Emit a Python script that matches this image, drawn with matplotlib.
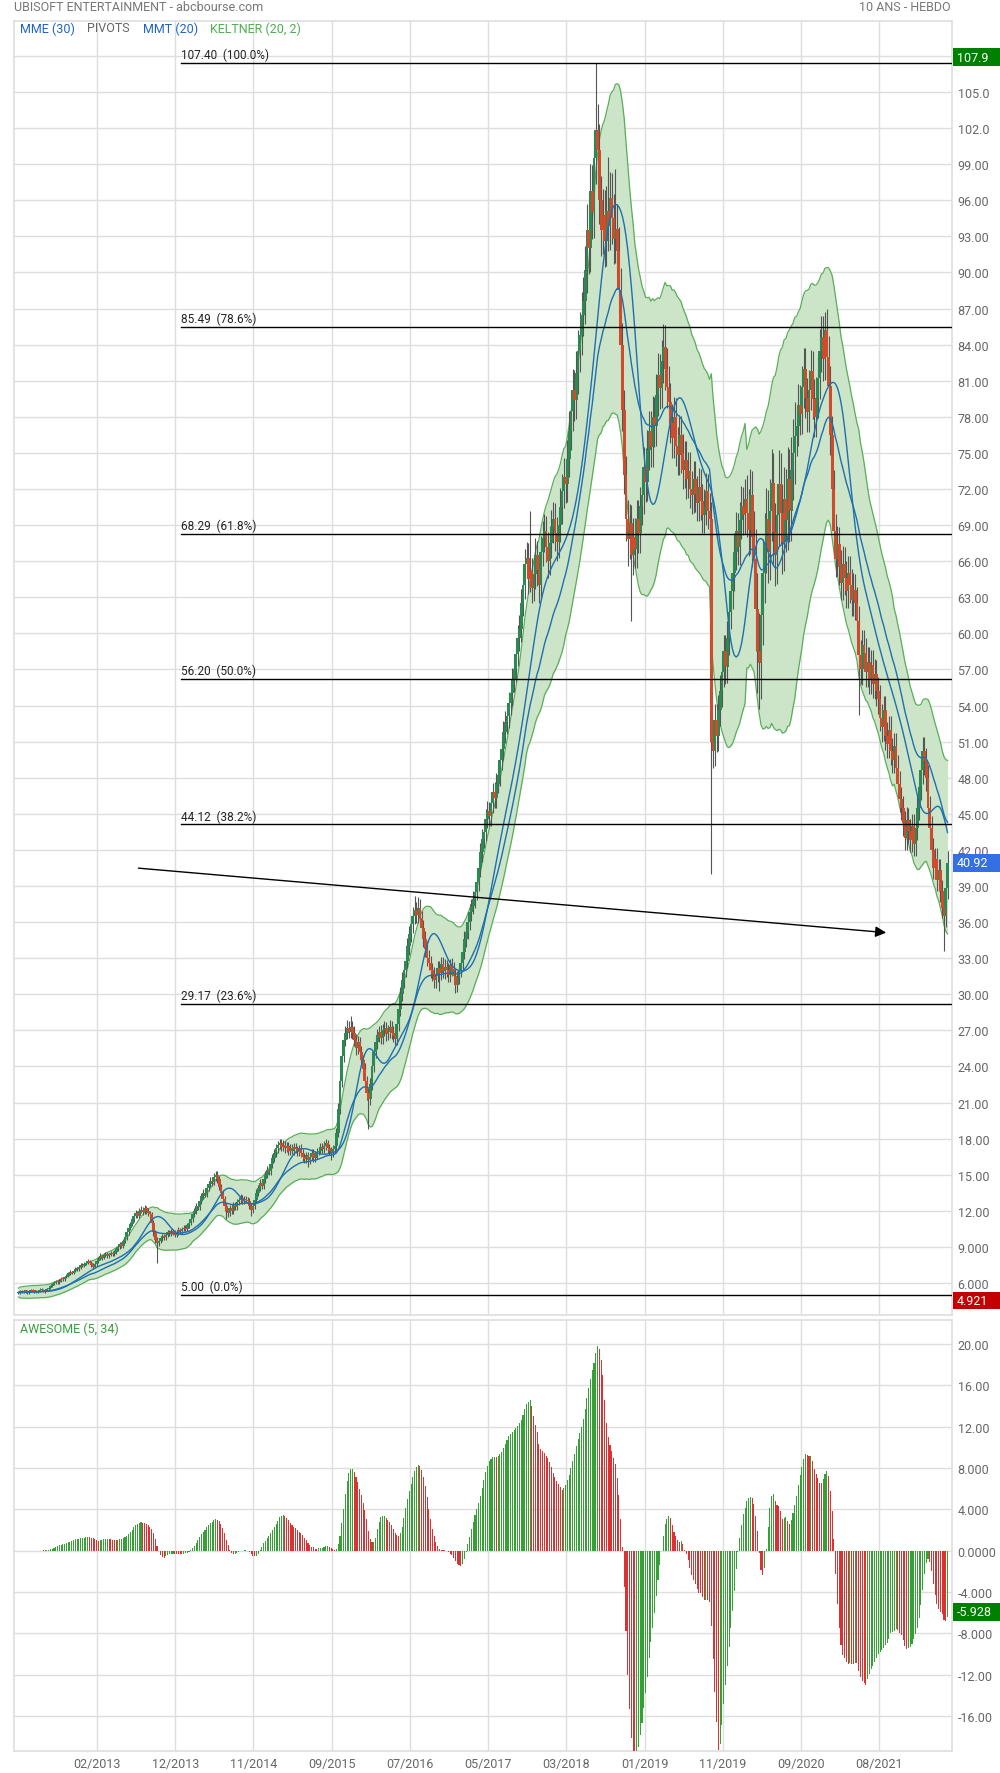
import numpy as np
import pandas as pd
import matplotlib
matplotlib.use("Agg")
import matplotlib.pyplot as plt
from matplotlib.patches import Rectangle
from matplotlib.transforms import blended_transform_factory

plt.rcParams["font.family"] = ["Roboto", "DejaVu Sans"]

# Weekly closes, one line per stretch of the chart (mar 2012 -> may 2022)
closes = [
    5.20, 5.30, 5.25, 5.35, 5.30, 5.20, 5.30, 5.40, 5.35, 5.30, 5.25, 5.35, 5.45, 5.40, 5.30, 5.40, 5.50, 5.60,
    5.75, 5.90, 6.00, 6.10, 6.05, 6.20, 6.35, 6.30, 6.50,
    6.60, 6.80, 6.90, 6.85, 7.00, 7.20, 7.15, 7.30, 7.50, 7.45, 7.60, 7.70, 7.80, 7.70,
    7.50, 7.35, 7.55,
    7.80, 8.00, 8.20, 8.10, 8.30, 8.40, 8.25, 8.35, 8.50, 8.40,
    8.60, 8.80, 9.00, 9.20, 9.10, 9.50, 9.80, 10.2, 10.6, 10.9, 11.3, 11.6,
    11.8, 11.6, 12.0, 12.1, 11.9, 12.2, 12.0, 11.8, 11.7,
    11.0, 10.2, 9.60, 9.30, 9.50,
    9.70, 9.90, 9.80, 10.0, 10.2, 10.1, 10.3, 10.2, 10.0, 10.2, 10.4, 10.3, 10.5, 10.6, 10.5, 10.8, 11.0,
    11.3, 11.7, 12.0, 12.4, 12.3, 12.8, 13.2, 13.5, 13.4, 13.9, 14.2, 14.5, 14.4, 14.8, 15.0,
    14.6, 14.0, 13.5, 13.0, 12.4, 12.0, 11.8, 12.2, 12.0, 12.5, 12.3,
    12.7, 12.9, 13.1, 12.8, 13.0, 12.9, 12.8,
    12.4, 12.1, 12.4,
    12.9, 13.5, 13.9, 14.3, 14.1, 14.6, 15.0, 15.4, 15.3, 15.9, 16.4, 16.8, 17.2, 17.5, 17.6,
    17.3, 17.5, 17.2, 17.4, 17.0,
    17.2, 17.0, 17.3, 17.1, 16.9, 17.2, 16.8, 16.5,
    16.3, 16.6, 16.2, 16.5, 16.8, 16.4, 16.6, 16.9, 17.0,
    17.3, 17.1, 17.4, 17.6, 17.2, 17.0, 16.8, 17.1, 17.4,
    18.5, 20.5, 22.8, 24.9, 26.2, 26.8, 27.2, 26.9,
    27.3, 26.8, 26.2, 25.5, 26.0, 25.2, 24.5, 23.8, 22.8,
    21.8, 21.3, 22.5, 24.0, 25.2,
    26.0, 26.6, 26.9, 26.4, 27.0, 27.2, 26.7, 26.9, 27.3, 26.8, 26.5, 26.3,
    27.5, 28.8, 30.0, 31.2, 32.0, 32.8, 34.0, 35.0, 35.8, 36.5, 37.0,
    36.6, 37.2, 36.3, 35.5, 34.6, 33.8, 33.0, 32.6, 32.0, 31.7, 31.2,
    31.6, 32.2, 31.8, 32.5, 31.9, 32.3, 32.0, 31.6, 32.4, 32.1, 31.5, 30.8, 31.4, 32.0, 32.6,
    33.5, 34.6, 35.2, 36.0, 36.8, 37.3, 37.9, 38.5, 39.3,
    40.5, 41.8, 42.9, 43.5, 44.6, 45.2, 44.8,
    45.9, 46.8, 46.3, 47.5, 48.2,
    49.5, 50.4, 51.8, 52.6, 53.1, 54.2, 55.0, 56.1, 57.0, 58.3, 59.6, 60.4,
    62.5, 64.0, 65.8, 66.3,
    64.5, 65.2, 63.8, 64.9, 66.5, 65.3, 64.0, 66.8, 67.9, 68.5, 67.2, 66.0, 67.5, 68.8,
    69.5, 68.3, 67.6, 69.0, 70.5, 71.8, 73.0, 72.4, 74.5, 76.8,
    78.5, 80.2, 79.4, 81.6, 83.5, 84.8, 86.5, 87.6,
    90.2, 93.5, 92.0, 96.8, 95.0, 99.5, 101.8, 100.2,
    96.0, 93.5, 94.8, 92.6, 95.1, 93.9, 96.2, 94.5, 92.8, 93.6, 91.8,
    88.5, 84.0, 78.6, 73.2, 69.5, 67.8,
    69.2, 66.5, 68.0, 67.0, 69.5, 68.3, 70.6,
    71.5, 73.8, 72.6, 75.2, 76.8, 75.5, 78.0, 77.2, 79.8, 81.5, 80.4, 82.6, 83.8, 82.0, 80.5, 79.2,
    77.5, 76.2, 78.0, 75.6, 74.8, 76.5, 75.0, 73.6, 74.4, 72.8, 73.5, 72.0, 71.5, 72.8, 71.6,
    70.8, 72.2, 71.0, 69.8, 70.5, 71.8, 70.2, 69.5,
    51.0, 50.2, 52.8, 51.5,
    53.6, 55.2, 56.8, 58.5, 57.2, 59.6, 61.8,
    63.5, 65.0, 66.8, 68.5, 67.2, 69.4, 70.6, 69.8, 71.2,
    70.0, 68.6, 71.5, 68.0, 66.2, 62.0, 58.5, 57.5, 61.5, 65.0, 67.5,
    69.5, 66.8, 70.2, 72.5, 68.4, 66.5, 69.8, 72.4, 70.0, 67.6, 71.2, 69.4, 72.8, 70.2, 73.6, 75.0, 76.4,
    77.2, 79.0, 78.2, 80.5, 82.0, 79.6, 78.4, 80.2, 81.8, 79.5, 78.0, 79.6, 81.2, 83.5, 84.6, 82.8, 85.2, 83.0, 80.6,
    76.5, 72.0, 68.5, 66.2, 67.4, 65.5,
    64.2, 65.8, 64.6, 63.5, 65.0, 64.0, 62.8, 63.6, 62.5, 61.0,
    58.2, 57.0, 59.0, 58.4, 56.8, 57.6, 56.2, 57.4, 55.8, 56.6, 55.2, 54.5,
    53.0, 52.2, 53.6, 51.5, 50.8, 52.0, 50.2, 49.5, 50.6, 48.8, 47.5, 46.2, 45.5,
    44.2, 43.0, 44.5, 43.6, 42.8, 44.0, 42.5, 43.8, 45.5, 47.2,
    48.6, 50.2, 49.4, 48.0, 45.5,
    43.8, 42.0, 40.5, 41.2, 39.5, 40.3, 38.6, 37.2, 36.5, 38.8, 40.92,
]

# wick above the body / below the body, same layout as closes
wick_up = [
    .10, .08, .12, .07, .10, .11, .08, .10, .13, .08, .10, .07, .11, .09, .12, .08, .10, .09,
    .12, .10, .13, .11, .14, .10, .12, .13, .11,
    .13, .12, .15, .11, .13, .16, .12, .14, .13, .16, .12, .14, .17, .13,
    .13, .12, .14,
    .15, .16, .30, .14, .15, .15, .17, .14, .16, .15,
    .16, .15, .18, .17, .19, .18, .20, .19, .21, .20, .23, .21,
    .23, .20, .24, .26, .21, .25, .23, .20, .21,
    .20, .22, .20, .19, .20,
    .18, .20, .17, .20, .19, .21, .20, .18, .20, .19, .21, .20, .19, .20, .21, .20, .22,
    .22, .25, .23, .25, .24, .26, .25, .28, .26, .28, .25, .30, .28, .30, .28,
    .28, .25, .26, .25, .24, .23, .24, .25, .23, .25, .24,
    .25, .24, .26, .25, .24, .25, .23,
    .24, .23, .25,
    .25, .28, .27, .30, .28, .30, .30, .32, .30, .33, .32, .34, .36, .33, .40,
    .33, .36, .31, .33, .30,
    .31, .33, .30, .33, .31, .30, .33, .30,
    .30, .31, .30, .33, .30, .31, .33, .30, .31,
    .33, .31, .36, .33, .31, .33, .30, .33, .36,
    .40, .45, .50, .55, .60, .60, .65, .55,
    .90, .50, .52, .50, .50, .45, .50, .42, .45,
    .42, .42, .50, .50, .52,
    .52, .55, .50, .55, .52, .55, .50, .52, .55, .50, .52, .50,
    .55, .60, .60, .65, .60, .65, .70, .65, .70, .75, 1.2,
    .70, .90, .70, .65, .70, .65, .60, .65, .60, .60, .60,
    .60, .60, .55, .60, .57, .60, .55, .60, .57, .60, .55, .60, .57, .60, .60,
    .60, .65, .65, .70, .70, .65, .70, .75, .75,
    .75, .80, .80, .85, .80, .85, .80,
    .85, .80, .85, .85, .90,
    .90, .90, .95, .95, 1.0, .95, 1.0, 1.0, 1.05, 1.05, 1.1, 1.1,
    1.2, 1.4, 1.2, 1.3,
    1.2, 5.0, 1.1, 1.2, 1.4, 1.2, 1.1, 1.3, 1.4, 1.45, 1.25, 1.2, 1.4, 1.45,
    1.4, 1.3, 1.4, 1.45, 1.55, 1.45, 1.55, 1.5, 1.6, 1.65,
    1.65, 1.75, 1.65, 1.9, 1.75, 1.95, 1.9, 2.0,
    2.0, 2.2, 2.1, 2.2, 2.1, 2.3, 5.6, 2.2,
    2.1, 2.0, 2.15, 2.05, 2.1, 4.5, 2.15, 2.1, 2.0, 5.0, 2.05,
    2.0, 1.9, 1.8, 1.65, 1.55, 1.55,
    1.55, 1.5, 1.55, 1.55, 1.6, 1.55, 1.6,
    1.6, 1.65, 1.6, 1.7, 1.65, 1.7, 1.75, 1.65, 1.75, 1.8, 1.75, 1.8, 1.9, 1.8, 1.75, 1.7,
    1.65, 1.6, 1.65, 1.6, 1.55, 1.65, 1.6, 1.55, 1.6, 1.55, 1.6, 1.55, 1.5, 1.55, 1.5,
    1.5, 1.55, 1.5, 1.45, 1.5, 1.55, 1.45, 1.5,
    1.4, 1.3, 1.35, 1.3,
    1.3, 1.35, 1.35, 1.4, 1.35, 1.4, 1.45,
    1.45, 1.5, 1.5, 1.55, 1.5, 1.55, 1.65, 1.55, 1.6,
    2.0, 2.0, 2.2, 2.0, 2.2, 2.5, 3.0, 3.2, 3.0, 2.8, 2.5,
    2.6, 2.4, 2.6, 2.8, 2.5, 2.4, 2.6, 2.8, 2.6, 2.4, 2.6, 2.5, 2.7, 2.5, 2.7, 2.8, 2.8,
    1.65, 1.7, 1.65, 1.75, 1.75, 1.7, 1.65, 1.7, 1.75, 1.7, 1.65, 1.7, 1.75, 1.8, 1.8, 1.75, 1.5, 1.75, 1.7,
    1.65, 1.6, 1.55, 1.45, 1.5, 1.45,
    1.4, 1.45, 1.4, 1.4, 1.45, 1.4, 1.35, 1.4, 1.35, 1.35,
    1.3, 1.25, 1.3, 1.3, 1.25, 1.3, 1.25, 1.25, 1.25, 1.25, 1.2, 1.2,
    1.2, 1.15, 1.2, 1.15, 1.15, 1.15, 1.1, 1.1, 1.15, 1.1, 1.05, 1.05, 1.05,
    1.0, 1.0, 1.05, 1.0, 1.0, 1.0, 1.0, 1.0, 1.05, 1.1,
    1.1, 1.15, 1.15, 1.1, 1.05,
    1.0, 1.0, .95, .95, .95, .95, .9, .9, .9, .9, .95,
]

wick_dn = [
    .08, .10, .07, .10, .12, .08, .10, .07, .09, .11, .08, .12, .07, .10, .08, .10, .08, .09,
    .10, .12, .09, .11, .10, .13, .09, .11, .10,
    .11, .13, .10, .14, .12, .11, .15, .12, .13, .11, .14, .12, .13, .16,
    .16, .20, .13,
    .14, .15, .12, .16, .14, .16, .14, .15, .13, .16,
    .15, .17, .14, .18, .17, .19, .16, .20, .18, .20, .19, .21,
    .20, .23, .19, .20, .24, .20, .23, .21, .20,
    .23, .26, .30, 1.6, .20,
    .20, .18, .20, .19, .21, .19, .20, .21, .19, .20, .18, .20, .21, .19, .20, .21, .20,
    .20, .22, .25, .23, .26, .24, .26, .25, .28, .25, .28, .26, .30, .28, .30,
    .25, .28, .26, .28, .40, .70, .32, .25, .28, .25, .26,
    .24, .25, .23, .26, .25, .24, .25,
    .28, .50, .25,
    .25, .24, .28, .26, .30, .28, .30, .29, .33, .30, .33, .31, .33, .36, .33,
    .33, .30, .36, .31, .35,
    .33, .31, .35, .30, .33, .31, .36, .33,
    .36, .30, .55, .33, .30, .36, .31, .33, .30,
    .30, .33, .31, .33, .36, .33, .55, .31, .33,
    .35, .40, .45, .50, .55, .50, .55, .55,
    .50, .52, .50, .55, .50, .52, .50, .55, .50,
    .60, 2.5, .50, .42, .45,
    .50, .52, .55, .50, .52, .50, .55, .50, .52, .55, .50, .52,
    .50, .55, .60, .60, .65, .60, .65, .70, .65, .70, .70,
    .70, .65, .70, .75, .65, .70, .65, .60, .65, .60, .70,
    .70, .57, 1.5, .60, .55, .60, .60, .57, .60, .55, .60, .70, .60, .55, .60,
    .60, .60, .65, .65, .70, .70, .65, .70, .70,
    .70, .75, .80, .75, .80, .80, .85,
    .80, .85, .80, .85, .80,
    .85, .90, .90, .95, .95, 1.0, .95, 1.0, 1.0, 1.05, 1.05, 1.1,
    1.1, 1.1, 1.15, 1.2,
    1.2, 1.1, 1.3, 1.1, 1.2, 1.4, 1.45, 1.1, 1.2, 1.15, 1.3, 1.4, 1.15, 1.2,
    1.3, 1.45, 1.55, 1.3, 1.4, 1.45, 1.4, 1.55, 1.45, 1.5,
    1.55, 1.65, 1.75, 1.6, 1.7, 1.75, 1.65, 1.8,
    1.9, 1.95, 2.1, 2.0, 2.2, 2.1, 2.15, 2.2,
    2.0, 2.1, 1.95, 2.15, 2.05, 2.1, 2.0, 2.15, 2.1, 2.0, 2.15,
    1.95, 1.9, 1.8, 1.65, 1.8, 2.2,
    1.65, 5.5, 1.65, 1.55, 1.6, 1.65, 1.6,
    1.6, 1.55, 1.65, 1.6, 1.65, 1.7, 1.65, 1.75, 1.65, 1.7, 1.75, 1.7, 1.75, 1.8, 1.75, 1.7,
    1.65, 1.65, 1.6, 1.7, 1.65, 1.6, 1.65, 1.6, 1.55, 1.65, 1.55, 1.6, 1.55, 1.5, 1.55,
    1.5, 1.45, 1.55, 1.5, 1.45, 1.5, 1.55, 1.45,
    11.0, 1.4, 1.25, 1.35,
    1.25, 1.3, 1.35, 1.3, 1.4, 1.35, 1.4,
    1.45, 1.45, 1.5, 1.5, 1.55, 1.5, 1.55, 1.6, 1.55,
    2.0, 2.2, 2.0, 2.5, 2.8, 3.5, 3.5, 3.8, 3.0, 2.5, 2.5,
    2.5, 2.6, 2.4, 2.5, 2.7, 2.6, 2.4, 2.5, 2.6, 2.7, 2.4, 2.6, 2.5, 2.6, 2.5, 2.5, 2.6,
    1.65, 1.65, 1.7, 1.65, 1.75, 1.7, 1.65, 1.7, 1.65, 1.7, 1.65, 1.65, 1.7, 1.75, 1.75, 1.8, 1.75, 1.75, 1.7,
    1.65, 1.6, 1.55, 1.5, 1.45, 1.5,
    1.4, 1.4, 1.45, 1.4, 1.4, 1.45, 1.4, 1.35, 1.4, 1.35,
    5.0, 1.25, 1.3, 1.25, 1.3, 1.25, 1.25, 1.25, 1.2, 1.25, 1.2, 1.2,
    1.15, 1.2, 1.15, 1.2, 1.15, 1.15, 1.15, 1.1, 1.1, 1.1, 1.05, 1.05, 1.05,
    1.05, 1.0, 1.0, 1.05, 1.0, 1.0, 1.05, 1.0, 1.0, 1.05,
    1.05, 1.1, 1.15, 1.1, 1.05,
    1.0, .95, .95, .95, .95, .9, .9, .9, 2.9, .9, .9,
]

fib_levels = [107.40, 85.49, 68.29, 56.20, 44.12, 29.17, 5.00]
fib_pcts = ["100.0%", "78.6%", "61.8%", "50.0%", "38.2%", "23.6%", "0.0%"]
date_labels = ["02/2013", "12/2013", "11/2014", "09/2015", "07/2016", "05/2017",
               "03/2018", "01/2019", "11/2019", "09/2020", "08/2021"]
# hand drawn trend arrow (week index, price)
trend_from = (66, 40.5)
trend_to = (490, 35.1)
# values shown in the coloured boxes on the right scale
box_high, box_last, box_low, box_ao = 107.9, 40.92, 4.921, -5.928

n = min(len(closes), len(wick_up), len(wick_dn))
df = pd.DataFrame({"close": closes[:n], "wu": wick_up[:n], "wd": wick_dn[:n]})
df["open"] = df["close"].shift(1).fillna(df["close"])
df["high"] = df[["open", "close"]].max(axis=1) + df["wu"]
df["low"] = df[["open", "close"]].min(axis=1) - df["wd"]
x = np.arange(n)

# indicators
ema30 = df["close"].ewm(span=30, adjust=False).mean()
tma20 = df["close"].rolling(10, min_periods=1).mean().rolling(11, min_periods=1).mean()
mid = df["close"].ewm(span=20, adjust=False).mean()
atr = (df["high"] - df["low"]).rolling(20, min_periods=1).mean()
kel_up = mid + 2 * atr
kel_dn = mid - 2 * atr
med = (df["high"] + df["low"]) / 2
ao = med.rolling(5, min_periods=1).mean() - med.rolling(34, min_periods=15).mean()

GRID = "#dedede"
LABEL = "#666666"

fig = plt.figure(figsize=(10, 17.74), dpi=100)
ax1 = fig.add_axes([0.014, 0.2582, 0.938, 0.7294])
ax2 = fig.add_axes([0.014, 0.0124, 0.938, 0.2430])

xticks = 44.2 + 44.04 * np.arange(len(date_labels))


def fmt(v):
    if abs(v) < 1e-9:
        return "0.0000"
    digits = len(str(int(round(abs(v)))))
    return f"{v:.{max(4 - digits, 1)}f}"


for ax in (ax1, ax2):
    ax.set_xlim(-2.5, n + 1.5)
    for s in ax.spines.values():
        s.set_color(GRID)
        s.set_linewidth(1.2)
    ax.yaxis.tick_right()
    ax.tick_params(length=0, labelsize=9, labelcolor=LABEL, pad=4)
    ax.set_xticks(xticks)
    ax.grid(True, color=GRID, lw=1)
    ax.set_axisbelow(True)

# price panel
ax1.set_ylim(3.34, 110.9)
pt = np.arange(6, 109, 3)
ax1.set_yticks(pt)
ax1.set_yticklabels([fmt(v) for v in pt])
ax1.set_xticklabels([])

ax1.fill_between(x, kel_dn, kel_up, color="#cce5c8", lw=0, zorder=1)
ax1.plot(x, kel_up, color="#5aae5a", lw=0.9, zorder=2)
ax1.plot(x, kel_dn, color="#5aae5a", lw=0.9, zorder=2)

up = df["close"] >= df["open"]
ax1.vlines(x, df["low"], df["high"], color="#555555", lw=0.8, zorder=3)
body_lo = df[["open", "close"]].min(axis=1)
body_h = (df["close"] - df["open"]).abs().clip(lower=0.08)
ax1.bar(x[up], body_h[up], bottom=body_lo[up], width=1.6, color="#2a8a52", lw=0, zorder=4)
ax1.bar(x[~up], body_h[~up], bottom=body_lo[~up], width=1.6, color="#d04a2c", lw=0, zorder=4)

ax1.plot(x, ema30, color="#1f6fae", lw=1.0, zorder=5)
ax1.plot(x, tma20, color="#1f6fae", lw=1.0, zorder=5)

for lvl, pct in zip(fib_levels, fib_pcts):
    ax1.axhline(lvl, xmin=0.178, xmax=1, color="black", lw=1, zorder=6)
    ax1.text(0.178, lvl + 0.15, f"{lvl:.2f}  ({pct})", transform=blended_transform_factory(ax1.transAxes, ax1.transData),
             ha="left", va="bottom", fontsize=8.5, color="#222222", zorder=6)

ax1.annotate("", xy=trend_to, xytext=trend_from,
             arrowprops=dict(arrowstyle="-|>", color="black", lw=1, mutation_scale=16), zorder=7)

# oscillator panel
ax2.set_ylim(-19.4, 22.33)
at = np.arange(-16, 21, 4)
ax2.set_yticks(at)
ax2.set_yticklabels([fmt(v) for v in at])
ax2.set_xticklabels(date_labels)
ao_up = ao > ao.shift(1)
ax2.bar(x[ao_up], ao[ao_up], width=0.6, color="#35a035", lw=0, zorder=3)
ax2.bar(x[~ao_up], ao[~ao_up], width=0.6, color="#d83232", lw=0, zorder=3)


def value_box(ax, val, txt, color, h, shift=0.0):
    tr = blended_transform_factory(ax.transAxes, ax.transData)
    c = val + shift
    ax.add_patch(Rectangle((1.001, c - h / 2), 0.0505, h, transform=tr, clip_on=False,
                           fc=color, ec="none", zorder=20))
    ax.text(1.005, c, txt, transform=tr, ha="left", va="center", color="white",
            fontsize=9, zorder=21, clip_on=False)


value_box(ax1, box_high, "107.9", "#008000", 1.45)
value_box(ax1, box_last, "40.92", "#3470e4", 1.45)
value_box(ax1, box_low, "4.921", "#c40000", 1.45, shift=-0.4)
value_box(ax2, box_ao, "-5.928", "#008000", 1.7)

# titles and legend
fig.text(0.014, 0.9955, "UBISOFT ENTERTAINMENT - abcbourse.com", va="center", fontsize=9, color="#777777")
fig.text(0.951, 0.9955, "10 ANS - HEBDO", va="center", ha="right", fontsize=9, color="#777777")
leg = [("MME (30)", "#1e64c8", 0.020), ("PIVOTS", "#666666", 0.087),
       ("MMT (20)", "#1e64c8", 0.143), ("KELTNER (20, 2)", "#4caf50", 0.210)]
for txt, col, xf in leg:
    fig.text(xf, 0.9837, txt, va="center", fontsize=9, color=col)
fig.text(0.020, 0.2509, "AWESOME (5, 34)", va="center", fontsize=9, color="#3a9e3a")

fig.savefig("out.png", dpi=100)
